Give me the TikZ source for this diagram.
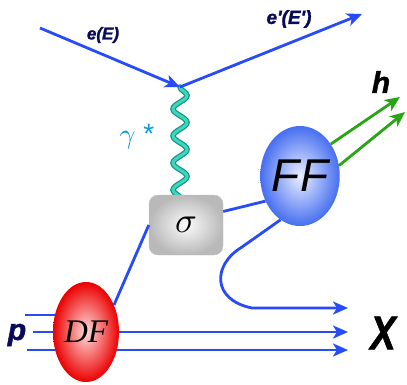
\documentclass[tikz,border=0pt]{standalone}
\usepackage{fontspec}
\setmainfont{Liberation Sans}
\newfontfamily\serifit{Liberation Serif}
\newfontfamily\heavy[FakeBold=1.5]{Liberation Sans}
\usetikzlibrary{shapes.geometric,arrows.meta,decorations.pathmorphing}
\definecolor{eblue}{RGB}{40,75,250}
\definecolor{hgreen}{RGB}{40,165,20}
\definecolor{labcol}{RGB}{10,10,90}
\definecolor{phot}{RGB}{60,215,190}
\definecolor{photd}{RGB}{20,150,130}
\definecolor{ffin}{RGB}{235,240,255}
\definecolor{ffout}{RGB}{70,110,240}
\definecolor{dfin}{RGB}{255,220,220}
\definecolor{dfout}{RGB}{235,0,0}
\begin{document}
\begin{tikzpicture}[x=1pt,y=-1pt,
  fermion/.style={draw=eblue,line width=2.8pt},
  hadron/.style={draw=hgreen,line width=2.8pt},
  tipend/.style={-{Stealth[length=15pt,width=13pt,inset=4pt]}},
  lbl/.style={text=labcol,font=\fontsize{#1}{#1}\selectfont\heavy\bfseries\itshape,inner sep=0pt},
  blob/.style={ellipse,minimum width=66pt,minimum height=100pt,inner sep=0pt},
  wave/.style={decorate,decoration={snake,segment length=27pt,amplitude=7pt},line cap=round},
]
\useasboundingbox (0,0) rectangle (407,384);
% coordinates
\coordinate (ein) at (40,28);
\coordinate (vtx) at (180,87);
\coordinate (phend) at (180,200);
\coordinate (eout) at (362,14);
\coordinate (p1) at (25,315);
\coordinate (d1) at (70,315);
\coordinate (p2) at (33,332);
\coordinate (p3) at (27,350);
\coordinate (x1) at (348,308);
\coordinate (x2) at (348,332);
\coordinate (x3) at (348,350);
\coordinate (h1) at (400,97);
\coordinate (h2) at (405,112);
\coordinate (c1) at (242,247);
\coordinate (c2) at (252,308);
% proton lines (behind DF)
\draw[fermion] (p1) -- (d1);
\draw[fermion,tipend] (p2) -- (x2);
\draw[fermion,tipend] (p3) -- (x3);
% photon (its end hidden under the sigma box)
\draw[photd,line width=5.5pt,wave] (vtx) -- (phend);
\draw[phot,line width=3pt,wave] (vtx) -- (phend);
% nodes
\node[blob,shade,inner color=dfin,outer color=dfout] (DF) at (86,332)
  {\fontsize{33}{33}\selectfont\serifit\itshape DF};
\node[draw=gray!45,rounded corners=9pt,minimum width=74pt,minimum height=60pt,
  shade,inner color=gray!3,outer color=gray!55] (sigma) at (186,225)
  {\scalebox{3.6}{$\sigma$}};
\node[blob,shade,inner color=ffin,outer color=ffout] (FF) at (300,176)
  {\fontsize{46}{46}\selectfont\itshape FF};
% electron lines
\draw[fermion,tipend] (ein) -- (vtx);
\draw[fermion,tipend] (vtx) -- (eout);
% connectors
\draw[fermion] (sigma.west) -- (DF.44);
\draw[fermion] (sigma.20) -- (FF.216);
\draw[fermion,tipend] (FF.246) -- (c1) .. controls (212,265) and (212,300) .. (c2) -- (x1);
\draw[hadron,tipend] (FF.46) -- (h1);
\draw[hadron,tipend] (FF.15) -- (h2);
% labels
\node[lbl=17] (lE) at (103,35) {e(E)};
\node[lbl=19] (lEp) at (289,19) {e'(E')};
\node[lbl=30,text=black] (lh) at (381,82) {h};
\node[lbl=30] (lp) at (17,335) {p};
\node[lbl=38,text=black,yscale=1.25] (lX) at (383,333) {X};
\node[text=cyan!85!blue,inner sep=0pt] (lg) at (137,137) {\scalebox{2.8}{$\gamma$ *}};
\end{tikzpicture}
\end{document}
